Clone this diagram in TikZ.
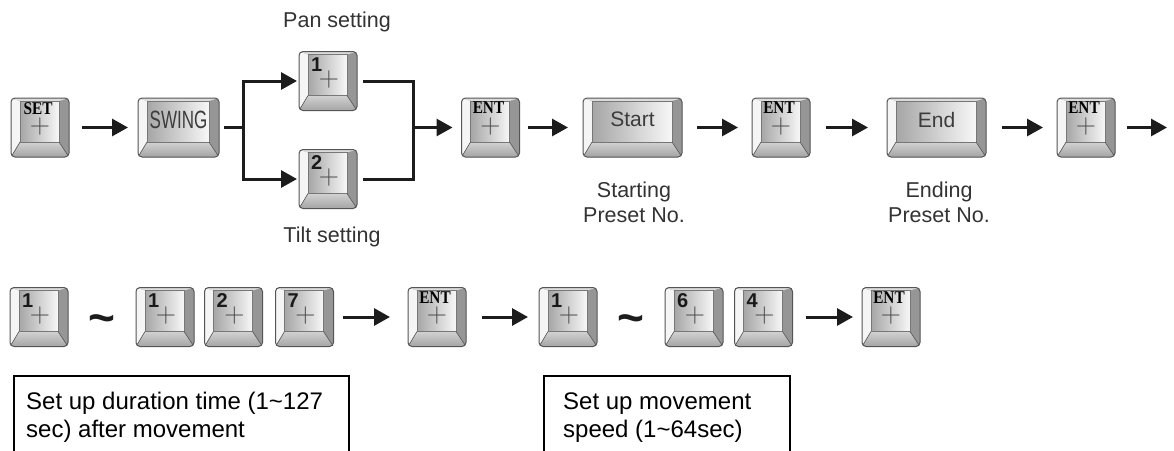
\documentclass[tikz,border=0pt]{standalone}
\usepackage{fontspec}
\usepackage{graphicx}
\usetikzlibrary{arrows.meta,calc}
\newfontfamily\arialf{Liberation Sans}
\newfontfamily\serifb{Liberation Serif}
\definecolor{keyedge}{HTML}{555555}
\definecolor{keyright}{HTML}{969696}
\definecolor{keyleft}{HTML}{F5F5F5}
\definecolor{keytop}{HTML}{DCDCDC}
\definecolor{keybotA}{HTML}{D2D2D2}
\definecolor{keybotB}{HTML}{A4A4A4}
\definecolor{faceL}{HTML}{A6A6A6}
\definecolor{faceR}{HTML}{F7F7F7}
\definecolor{inkgray}{HTML}{3C3C3C}
\definecolor{lblgray}{HTML}{333333}
\definecolor{plusgray}{HTML}{4A4A4A}
\definecolor{arrowc}{HTML}{1C1C1C}
\tikzset{
  keycap/.style={draw=keyedge, line width=1pt, rounded corners=4pt, fill=keyright,
    minimum height=59pt, inner sep=0pt, outer sep=0pt,
    path picture={
      \path (path picture bounding box.north west) coordinate (pNW)
            (path picture bounding box.north east) coordinate (pNE)
            (path picture bounding box.south west) coordinate (pSW)
            (path picture bounding box.south east) coordinate (pSE);
      \path ($(pNW)+(9pt,-3pt)$) coordinate (fNW)
            ($(pNE)+(-10pt,-3pt)$) coordinate (fNE)
            ($(pSW)+(9pt,15pt)$) coordinate (fSW)
            ($(pSE)+(-10pt,15pt)$) coordinate (fSE);
      \fill[sharp corners, keyleft] (pNW) -- (fNW) -- (fSW) -- (pSW) -- cycle;
      \fill[sharp corners, keytop] (pNW) -- (pNE) -- (fNE) -- (fNW) -- cycle;
      \shade[sharp corners, top color=keybotA, bottom color=keybotB] (fSW) -- (fSE) -- (pSE) -- (pSW) -- cycle;
      \shade[sharp corners, left color=faceL, right color=faceR] (fNW) rectangle (fSE);
      \draw[sharp corners, draw=keyedge!80, line width=0.6pt] (fNW) rectangle (fSE);
      \draw[sharp corners, draw=keyedge, line width=0.6pt] (fSW) -- (pSW) (fSE) -- (pSE);
    }},
  keyserif/.style={font=\serifb\bfseries\fontsize{18}{18}\selectfont, text=black, inner sep=0pt, anchor=north},
  keyplus/.style={font=\fontsize{28}{28}\selectfont, text=plusgray, inner sep=0pt},
  keydigit/.style={font=\arialf\bfseries\fontsize{20}{20}\selectfont, text=black!90, inner sep=0pt, anchor=north west},
  keyword/.style={font=\arialf\fontsize{21}{21}\selectfont, text=inkgray, inner sep=0pt},
  lbl/.style={font=\arialf\fontsize{21.5}{25}\selectfont, text=lblgray, align=center, anchor=base, inner sep=0pt},
  notebox/.style={draw=black, line width=2pt, anchor=north west, minimum height=130pt, inner sep=0pt},
  notetext/.style={font=\arialf\fontsize{24}{28}\selectfont, text=black, align=left, anchor=base west, inner sep=0pt},
  tildemark/.style={font=\arialf\bfseries\fontsize{46}{46}\selectfont, text=arrowc, inner sep=0pt, anchor=base},
  flow/.style={draw=arrowc, line width=3pt, -{Triangle[length=16pt,width=17pt]}},
  wire/.style={draw=arrowc, line width=3pt}
}
\newcommand\digitkey[4]{%
  \node[keycap, minimum width=58pt] (#1) at (#2,#3) {};
  \node[keydigit] (#1-d) at ($(#1.north west)+(12pt,-6pt)$) {#4};
  \node[keyplus] (#1-p) at ($(#1.center)+(1pt,1pt)$) {+};}
\newcommand\entkey[4]{%
  \node[keycap, minimum width=58pt] (#1) at (#2,#3) {};
  \node[keyserif] (#1-t) at ($(#1.north)+(-2pt,-4pt)$) {\scalebox{0.85}[1]{#4}};
  \node[keyplus] (#1-p) at ($(#1.center)+(0pt,1pt)$) {+};}
\newcommand\wordkey[5]{%
  \node[keycap, minimum width=#4pt] (#1) at (#2,#3) {};
  \node[keyword] (#1-t) at ($(#1.center)+(0pt,8pt)$) {#5};}
\begin{document}
\begin{tikzpicture}[x=1pt,y=-1pt]
\useasboundingbox (0,0) rectangle (1174,450);
\fill[white] (0,0) rectangle (1174,450);
\clip (0,0) rectangle (1174,450);

% row 1
\entkey{set}{40}{127.5}{SET}
\wordkey{swing}{178.5}{127.5}{81}{\scalebox{0.68}[1]{\fontsize{25}{25}\selectfont SWING}}
\digitkey{pan}{328}{81}{1}
\digitkey{tilt}{328}{179}{2}
\entkey{ent1}{490.5}{127.5}{ENT}
\wordkey{start}{632.5}{127.5}{99}{Start}
\entkey{ent2}{781}{127.5}{ENT}
\wordkey{end}{936.5}{127.5}{99}{End}
\entkey{ent3}{1086}{127.5}{ENT}

% row 2
\digitkey{ra}{39}{317}{1}
\digitkey{rb}{165}{317}{1}
\digitkey{rc}{233.5}{317}{2}
\digitkey{rd}{304.5}{317}{7}
\entkey{re}{437}{317}{ENT}
\digitkey{rf}{568}{317}{1}
\digitkey{rg}{694}{317}{6}
\digitkey{rh}{763.5}{317}{4}
\entkey{ri}{891}{317}{ENT}

\node[tildemark] (tl1) at (101.5,333) {\textasciitilde};
\node[tildemark] (tl2) at (631,333) {\textasciitilde};

% labels
\node[lbl] (panlbl) at (337,27) {Pan setting};
\node[lbl] (tiltlbl) at (332,242) {Tilt setting};
\node[lbl] (startlbl) at (634,222) {Starting\\Preset No.};
\node[lbl] (endlbl) at (939,222) {Ending\\Preset No.};

% note boxes
\node[notebox, minimum width=335pt] (box1) at (13,375) {};
\node[notetext] (note1) at (26,437) {Set up duration time (1\textasciitilde127\\sec) after movement};
\node[notebox, minimum width=246pt] (box2) at (543,375) {};
\node[notetext] (note2) at (563,437) {Set up movement\\speed (1\textasciitilde64sec)};

% connectors row 1
\coordinate (split) at (243,127.5);
\coordinate (join) at (413,127.5);
\coordinate (rowend) at (1167,127.5);
\draw[flow, shorten <=13pt, shorten >=10pt] (set.east) -- (swing.west);
\draw[wire, shorten <=5pt] (swing.east) -- (split);
\draw[flow, shorten >=2pt] (split) |- (pan.west);
\draw[flow, shorten >=2pt] (split) |- (tilt.west);
\draw[wire, shorten <=6pt] (pan.east) -| (join);
\draw[wire, shorten <=6pt] (tilt.east) -| (join);
\draw[flow, shorten >=9pt] (join) -- (ent1.west);
\draw[flow, shorten <=8pt, shorten >=15pt] (ent1.east) -- (start.west);
\draw[flow, shorten <=15pt, shorten >=14pt] (start.east) -- (ent2.west);
\draw[flow, shorten <=16pt, shorten >=19pt] (ent2.east) -- (end.west);
\draw[flow, shorten <=16pt, shorten >=14pt] (end.east) -- (ent3.west);
\draw[flow, shorten <=12pt] (ent3.east) -- (rowend);

% connectors row 2
\draw[flow, shorten <=9pt, shorten >=18pt] (rd.east) -- (re.west);
\draw[flow, shorten <=16pt, shorten >=11pt] (re.east) -- (rf.west);
\draw[flow, shorten <=13pt, shorten >=9pt] (rh.east) -- (ri.west);
\end{tikzpicture}
\end{document}
